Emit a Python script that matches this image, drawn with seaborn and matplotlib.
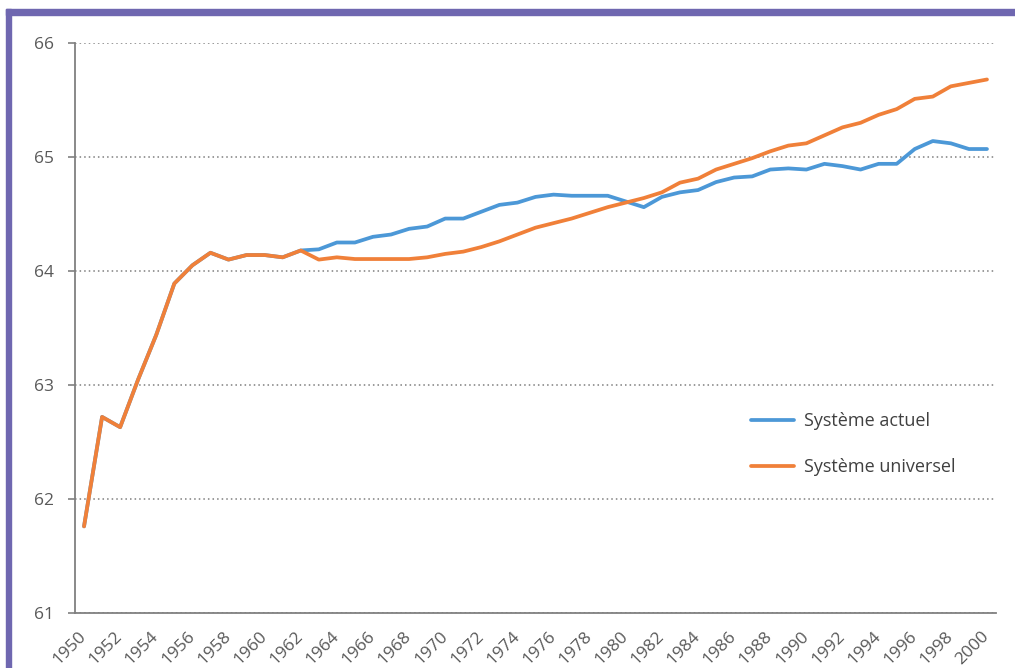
import pandas as pd
import numpy as np
import matplotlib.pyplot as plt
import matplotlib.patches as mpatches
import seaborn as sns

sns.set_style("white")
plt.rcParams['font.family'] = ['Open Sans', 'DejaVu Sans']

# Data
years = list(range(1950, 2001))
actuel = [61.76, 62.72, 62.63, 63.05, 63.44, 63.89, 64.05, 64.16, 64.10, 64.14,
          64.14, 64.12, 64.18, 64.19, 64.25, 64.25, 64.30, 64.32, 64.37, 64.39,
          64.46, 64.46, 64.52, 64.58, 64.60, 64.65, 64.67, 64.66, 64.66, 64.66,
          64.61, 64.56, 64.65, 64.69, 64.71, 64.78, 64.82, 64.83, 64.89, 64.90,
          64.89, 64.94, 64.92, 64.89, 64.94, 64.94, 65.07, 65.14, 65.12, 65.07,
          65.07]
universel = [61.76, 62.72, 62.63, 63.05, 63.44, 63.89, 64.05, 64.16, 64.10, 64.14,
             64.14, 64.12, 64.18, 64.10, 64.12, 64.105, 64.105, 64.105, 64.105, 64.12,
             64.15, 64.17, 64.21, 64.26, 64.32, 64.38, 64.42, 64.46, 64.51, 64.56,
             64.60, 64.64, 64.69, 64.775, 64.81, 64.89, 64.94, 64.99, 65.05, 65.10,
             65.12, 65.19, 65.26, 65.30, 65.37, 65.42, 65.51, 65.53, 65.62, 65.65,
             65.68]
series_names = ["Système actuel", "Système universel"]
colors = ["#4C98D7", "#F08039"]

df = pd.DataFrame({
    "annee": years * 2,
    "age": actuel + universel,
    "systeme": [series_names[0]] * len(years) + [series_names[1]] * len(years),
})

fig = plt.figure(figsize=(10.15, 6.68), dpi=100)
ax = fig.add_axes([75 / 1015, 55 / 668, 921 / 1015, 570 / 668])

sns.lineplot(data=df, x="annee", y="age", hue="systeme", palette=colors,
             linewidth=2.7, ax=ax, legend=True)

# Axes limits and ticks
ax.set_xlim(1949.5, 2000.5)
ax.set_ylim(61, 66)
ax.set_yticks(range(61, 67))
ax.set_xticks(years[::2])
ax.set_xticklabels([str(y) for y in years[::2]], rotation=45, ha="right",
                   va="center", rotation_mode="anchor")
ax.set_xticks(np.arange(1949.5, 2001, 1), minor=True)
ax.tick_params(axis="x", which="major", length=0, pad=15, labelsize=12.5, colors="#595959")
ax.tick_params(axis="x", which="minor", length=5, width=1.2, color="#808080", direction="out")
ax.tick_params(axis="y", length=5, width=1.2, color="#808080", labelsize=12.5,
               labelcolor="#595959", pad=10, left=True)
ax.set_xlabel("")
ax.set_ylabel("")

ax.grid(axis="y", linestyle=(0, (1, 2)), color="#7F7F7F", linewidth=1.1)
ax.set_axisbelow(True)
for side in ["top", "right"]:
    ax.spines[side].set_visible(False)
for side in ["left", "bottom"]:
    ax.spines[side].set_color("#808080")
    ax.spines[side].set_linewidth(1.3)

leg = ax.legend(loc="center left", bbox_to_anchor=(0.716, 0.296), frameon=False,
                fontsize=13, handlelength=2.4, handletextpad=0.55, labelspacing=1.55)
for t in leg.get_texts():
    t.set_color("#404040")

# Purple frame of the original slide
fig.patches.append(mpatches.Rectangle((6 / 1015, 0), 5 / 1015, 659 / 668,
                                      transform=fig.transFigure, color="#6F67B0"))
fig.patches.append(mpatches.Rectangle((6 / 1015, 653 / 668), 1009 / 1015, 6 / 668,
                                      transform=fig.transFigure, color="#6F67B0"))

fig.savefig("out.png", dpi=100)
